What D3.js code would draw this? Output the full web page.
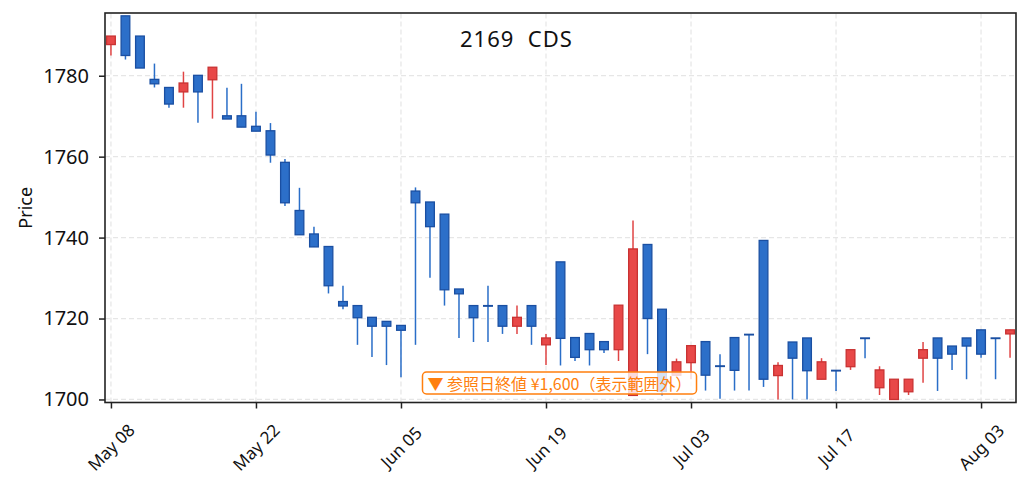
<!DOCTYPE html>
<html>
<head>
<meta charset="utf-8">
<script src="https://cdn.jsdelivr.net/npm/d3@7"></script>
<style>
  body { margin: 0; background: #fff; }
  text { font-family: "Noto Sans", "Noto Sans CJK JP", sans-serif; }
</style>
</head>
<body>
<div id="chart"></div>
<script>
// candle values, one per trading day (index 0 = May 08)
const opens  = [1787.7,1794.8,1789.8,1779.1,1777.1,1776.0,1780.1,1779.0,1770.1,1770.1,
                1767.5,1766.4,1758.6,1746.7,1740.9,1737.8,1724.2,1723.2,1720.3,1719.3,
                1718.3,1751.5,1748.8,1745.8,1727.3,1723.2,1723.2,1723.2,1718.1,1723.2,
                1713.5,1734.0,1715.3,1716.3,1714.3,1712.3,1701.0,1738.3,1722.3,1706.0,
                1709.1,1714.3,1708.3,1715.3,1716.1,1739.3,1705.9,1714.2,1715.2,1705.0,
                1707.2,1708.1,1715.2,1702.9,1700.0,1701.9,1710.2,1715.2,1713.2,1715.2,
                1717.2,1715.2,1716.2];
const highs  = [1789.8,1794.8,1789.8,1783.0,1777.1,1781.0,1780.1,1782.1,1777.0,1778.0,
                1771.1,1768.3,1759.4,1752.3,1742.7,1737.8,1728.1,1723.2,1720.3,1719.3,
                1718.3,1752.4,1748.8,1745.8,1727.3,1723.2,1728.1,1723.2,1723.2,1723.2,
                1716.2,1734.0,1715.3,1716.3,1714.3,1723.3,1744.2,1738.3,1722.3,1710.1,
                1713.3,1714.3,1711.2,1715.3,1716.1,1739.3,1709.2,1714.2,1715.2,1710.2,
                1707.2,1712.3,1715.2,1708.2,1705.0,1705.0,1714.2,1715.2,1713.2,1715.2,
                1717.2,1715.2,1717.2];
const lows   = [1785.0,1784.0,1781.9,1777.1,1772.1,1772.1,1768.4,1769.4,1769.3,1767.3,
                1766.3,1758.5,1747.8,1740.7,1737.7,1726.2,1722.3,1713.5,1710.5,1708.5,
                1705.5,1713.5,1730.1,1723.2,1715.2,1714.2,1714.2,1716.2,1716.2,1713.5,
                1708.5,1708.4,1709.5,1708.4,1711.5,1709.5,1701.0,1711.2,1701.0,1705.5,
                1705.0,1702.2,1700.2,1702.2,1702.2,1703.1,1700.0,1700.0,1700.0,1705.0,
                1702.1,1707.3,1710.2,1701.1,1700.0,1701.1,1704.1,1702.1,1707.3,1705.0,
                1710.3,1705.0,1710.3];
const closes = [1789.8,1785.0,1781.9,1778.0,1773.0,1778.2,1776.0,1782.1,1769.3,1767.3,
                1766.3,1760.4,1748.6,1740.7,1737.7,1728.1,1723.1,1720.2,1718.1,1718.1,
                1717.1,1748.6,1742.7,1727.1,1726.1,1720.2,1723.2,1718.1,1720.3,1718.1,
                1715.2,1715.1,1710.4,1712.3,1712.3,1723.3,1737.2,1720.0,1702.0,1709.3,
                1713.3,1706.0,1708.3,1707.2,1716.1,1705.0,1708.4,1710.2,1707.1,1709.3,
                1707.2,1712.3,1715.2,1707.3,1705.0,1705.0,1712.3,1710.2,1711.2,1713.2,
                1711.2,1715.2,1717.2];

const tickIndex  = [0, 10, 20, 30, 40, 50, 60];
const tickLabels = ["May 08", "May 22", "Jun 05", "Jun 19", "Jul 03", "Jul 17", "Aug 03"];
const yTicks = [1700, 1720, 1740, 1760, 1780];

const title = "2169\u00a0 CDS";
const note = "▼ 参照日終値 ¥1,600（表示範囲外）";

const width = 1031, height = 492;
const margin = {left: 105, right: 15, top: 13, bottom: 89.5};
const upFill = "#e84848", upEdge = "#c93232", upWick = "#e04444";
const dnFill = "#2c6fc9", dnEdge = "#1a4fa2", dnWick = "#2a6ec8";

const candles = opens.map((o, i) => ({i: i, o: o, h: highs[i], l: lows[i], c: closes[i]}));

const x = d3.scaleLinear().domain([-0.41, 62.41]).range([margin.left, width - margin.right]);
const y = d3.scaleLinear().domain([1699.25, 1795.5]).range([height - margin.bottom, margin.top]);

const svg = d3.select("#chart").append("svg")
    .attr("width", width)
    .attr("height", height);

// grid
const grid = svg.append("g");
grid.selectAll(".gy").data(yTicks).join("line")
    .attr("x1", x.range()[0]).attr("x2", x.range()[1])
    .attr("y1", d => y(d)).attr("y2", d => y(d));
grid.selectAll(".gx").data(tickIndex).join("line")
    .attr("x1", d => x(d)).attr("x2", d => x(d))
    .attr("y1", y.range()[0]).attr("y2", y.range()[1]);
grid.selectAll("line")
    .attr("stroke", "#e6e6e6")
    .attr("stroke-width", 1.2)
    .attr("stroke-dasharray", "5,3");

// candles
const bw = 0.6;
const up = d => d.c > d.o;
const g = svg.append("g");
g.selectAll("line.wick").data(candles).join("line")
    .attr("class", "wick")
    .attr("x1", d => x(d.i)).attr("x2", d => x(d.i))
    .attr("y1", d => y(d.h)).attr("y2", d => y(d.l))
    .attr("stroke", d => up(d) ? upWick : dnWick)
    .attr("stroke-width", 1.5);
g.selectAll("rect.body").data(candles).join("rect")
    .attr("class", "body")
    .attr("x", d => x(d.i - bw / 2))
    .attr("width", x(bw) - x(0))
    .attr("y", d => y(Math.max(d.o, d.c)))
    .attr("height", d => Math.max(0.6, Math.abs(y(d.o) - y(d.c))))
    .attr("fill", d => up(d) ? upFill : dnFill)
    .attr("stroke", d => up(d) ? upEdge : dnEdge)
    .attr("stroke-width", 1.3);

// note box
const noteG = svg.append("g");
const noteText = noteG.append("text")
    .attr("x", (x.range()[0] + x.range()[1]) / 2 - 1)
    .attr("y", 383)
    .attr("text-anchor", "middle")
    .attr("dominant-baseline", "central")
    .attr("font-size", 16)
    .attr("fill", "#ff7f0e")
    .style("font-family", "'Noto Sans CJK JP', sans-serif")
    .text(note);
const bb = noteText.node().getBBox();
noteG.insert("rect", "text")
    .attr("x", bb.x - 5).attr("y", 372)
    .attr("width", bb.width + 10).attr("height", 22)
    .attr("rx", 4)
    .attr("fill", "#fff").attr("fill-opacity", 0.8)
    .attr("stroke", "#ff7f0e").attr("stroke-width", 1.5);

// axes
const yAxis = svg.append("g")
    .attr("transform", `translate(${margin.left},0)`)
    .call(d3.axisLeft(y).tickValues(yTicks).tickSize(6).tickPadding(10).tickFormat(d3.format("d")));
const xAxis = svg.append("g")
    .attr("transform", `translate(0,${height - margin.bottom})`)
    .call(d3.axisBottom(x).tickValues(tickIndex).tickSize(6).tickFormat(""));
yAxis.select(".domain").remove();
xAxis.select(".domain").remove();
svg.selectAll(".tick line").attr("stroke", "#222").attr("stroke-width", 1.5);
yAxis.selectAll("text")
    .attr("font-size", 20)
    .attr("fill", "#111")
    .style("font-family", "'Noto Sans', sans-serif");

// rotated date labels, centered under their ticks
svg.append("g").selectAll("text").data(tickIndex).join("text")
    .attr("transform", d => `translate(${x(d)},${447}) rotate(-45)`)
    .attr("text-anchor", "middle")
    .attr("dominant-baseline", "central")
    .attr("font-size", 17)
    .attr("fill", "#111")
    .text((d, i) => tickLabels[i]);

// frame
svg.append("rect")
    .attr("x", x.range()[0]).attr("y", margin.top)
    .attr("width", x.range()[1] - x.range()[0])
    .attr("height", y.range()[0] - margin.top)
    .attr("fill", "none")
    .attr("stroke", "#222")
    .attr("stroke-width", 1.6);

svg.append("text")
    .attr("x", 25).attr("y", (margin.top + y.range()[0]) / 2)
    .attr("transform", `rotate(-90,25,${(margin.top + y.range()[0]) / 2})`)
    .attr("text-anchor", "middle")
    .attr("dominant-baseline", "central")
    .attr("font-size", 18)
    .attr("fill", "#111")
    .text("Price");

svg.append("text")
    .attr("x", 460).attr("y", 47)
    .attr("font-size", 22)
    .attr("letter-spacing", 1)
    .attr("fill", "#111")
    .text(title);
</script>
</body>
</html>
